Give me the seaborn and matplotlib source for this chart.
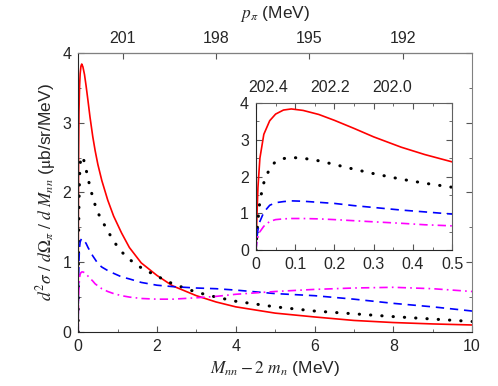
import numpy as np
import pandas as pd
import matplotlib
matplotlib.use("Agg")
import matplotlib.pyplot as plt
import seaborn as sns

# M_nn - 2 m_n (MeV)
m_nn = [0, 0.002, 0.005, 0.01, 0.02, 0.035, 0.05, 0.07, 0.09, 0.12, 0.16, 0.2,
        0.25, 0.3, 0.37, 0.43, 0.5, 0.6, 0.75, 0.9, 1.1, 1.3, 1.6, 2.0, 2.4,
        3.0, 3.5, 4.0, 5.0, 6.0, 7.0, 8.0, 9.0, 10.0]

red_solid = [0, 0.8, 1.7, 2.5, 3.15, 3.52, 3.70, 3.81, 3.84, 3.80, 3.69, 3.53,
             3.31, 3.08, 2.80, 2.60, 2.40, 2.17, 1.89, 1.66, 1.42, 1.21, 0.99,
             0.81, 0.66, 0.52, 0.43, 0.36, 0.27, 0.215, 0.165, 0.135, 0.115, 0.10]

black_dot = [0, 0.4, 0.8, 1.35, 1.83, 2.23, 2.41, 2.49, 2.52, 2.50, 2.43, 2.33,
             2.20, 2.08, 1.93, 1.82, 1.71, 1.60, 1.45, 1.30, 1.15, 1.04, 0.92,
             0.80, 0.69, 0.57, 0.50, 0.44, 0.36, 0.30, 0.26, 0.22, 0.185, 0.15]

blue_dash = [0, 0.3, 0.55, 0.78, 1.03, 1.22, 1.29, 1.32, 1.34, 1.33, 1.30, 1.27,
             1.21, 1.16, 1.09, 1.04, 0.98, 0.93, 0.88, 0.84, 0.79, 0.76, 0.71,
             0.67, 0.65, 0.63, 0.62, 0.60, 0.55, 0.52, 0.47, 0.41, 0.36, 0.30]

magenta_dashdot = [0, 0.2, 0.35, 0.5, 0.65, 0.78, 0.83, 0.85, 0.86, 0.86, 0.85,
                   0.83, 0.80, 0.77, 0.73, 0.69, 0.66, 0.62, 0.58, 0.55, 0.52,
                   0.50, 0.48, 0.47, 0.47, 0.49, 0.51, 0.54, 0.58, 0.61, 0.63,
                   0.64, 0.62, 0.58]

# pion momentum axis (approx. linear map read from the top ticks)
p0, slope = 202.44, 1.268
p_ticks_main = [201, 198, 195, 192]
p_ticks_inset = [202.4, 202.2, 202.0]

df = pd.DataFrame({"m": m_nn, "red": red_solid, "black": black_dot,
                   "blue": blue_dash, "magenta": magenta_dashdot})

sns.set_style("ticks")
plt.rcParams["font.family"] = ["Liberation Sans", "DejaVu Sans"]
plt.rcParams["mathtext.fontset"] = "stix"
plt.rcParams["font.size"] = 11.5

styles = [
    ("red", "#ff0000", dict(linestyle="-", linewidth=1.2)),
    ("black", "black", dict(linestyle=(0, (0.1, 3.6)), linewidth=2.2,
                            dash_capstyle="round")),
    ("blue", "#0000ff", dict(linestyle=(0, (5, 3.5)), linewidth=1.2)),
    ("magenta", "#ff00ff", dict(linestyle=(0, (5, 2.5, 1, 2.5)), linewidth=1.2)),
]


def fwd(m):
    return p0 - slope * np.asarray(m)


def inv(p):
    return (p0 - np.asarray(p)) / slope


def draw(ax):
    for col, c, kw in styles:
        sns.lineplot(data=df, x="m", y=col, ax=ax, color=c, legend=False, **kw)
    ax.set_xlabel("")
    ax.set_ylabel("")


fig = plt.figure(figsize=(4.98, 3.86), dpi=100)
ax = fig.add_axes([0.157, 0.14, 0.791, 0.723])
draw(ax)
ax.set_xlim(0, 10)
ax.set_ylim(0, 4)
ax.set_xticks(range(0, 11, 2))
ax.set_xticks(range(0, 11), minor=True)
ax.set_yticks(range(0, 5))
ax.set_yticks(np.arange(0, 4.01, 0.5), minor=True)
ax.tick_params(which="both", direction="in", right=True, top=False,
               color="#555555")
ax.tick_params(which="major", length=4, pad=5)
ax.tick_params(which="minor", length=2.5)
for s in ["top", "right"]:
    ax.spines[s].set_color("#808080")
ax.set_xlabel(r"$M_{nn} - 2\ m_n$ (MeV)", fontsize=12.5, labelpad=4)
ax.set_ylabel(r"$d^{2}\sigma\ /\ d\Omega_{\pi}\ /\ d\ M_{nn}$ ($\mathrm{\mu}$b/sr/MeV)",
              fontsize=12.5, labelpad=3)

sec = ax.secondary_xaxis("top", functions=(fwd, inv))
sec.set_xticks(p_ticks_main)
sec.tick_params(direction="in", length=4, color="#555555", pad=5)
sec.set_xlabel(r"$p_{\pi}$ (MeV)", fontsize=12.5, labelpad=9)

axin = fig.add_axes([0.514, 0.352, 0.394, 0.381])
draw(axin)
axin.set_xlim(0, 0.5)
axin.set_ylim(0, 4)
axin.set_xticks(np.arange(0, 0.51, 0.1))
axin.set_xticklabels(["0", "0.1", "0.2", "0.3", "0.4", "0.5"])
axin.set_xticks(np.arange(0, 0.51, 0.05), minor=True)
axin.set_yticks(range(0, 5))
axin.set_yticks(np.arange(0, 4.01, 0.5), minor=True)
axin.tick_params(which="both", direction="in", right=True, top=True,
                 color="#555555")
axin.tick_params(which="major", length=4, pad=5)
axin.tick_params(which="minor", length=2.5)
for s in ["top", "right"]:
    axin.spines[s].set_color("#606060")

sec2 = axin.secondary_xaxis("top", functions=(fwd, inv))
sec2.set_xticks(p_ticks_inset)
sec2.set_xticklabels(["202.4", "202.2", "202.0"])
sec2.tick_params(length=0, pad=6)
sec2.spines["top"].set_visible(False)

fig.savefig("out.png", dpi=100)
